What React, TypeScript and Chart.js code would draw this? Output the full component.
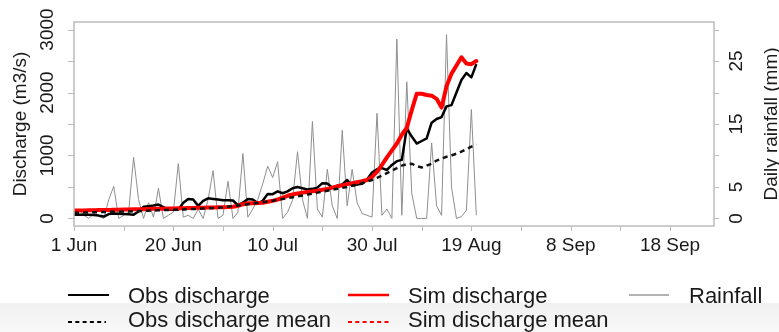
import React, { useEffect, useRef } from "react";
import { Chart, registerables } from "chart.js";

Chart.register(...registerables);

// Day index since 1 Jun
const days: number[] = [
  0, 1, 2, 3, 4, 5, 6, 7, 8, 9, 10, 11, 12, 13, 14, 15, 16, 17, 18, 19,
  20, 21, 22, 23, 24, 25, 26, 27, 28, 29, 30, 31, 32, 33, 34, 35, 36, 37, 38, 39,
  40, 41, 42, 43, 44, 45, 46, 47, 48, 49, 50, 51, 52, 53, 54, 55, 56, 57, 58, 59,
  60, 61, 62, 63, 64, 65, 66, 67, 68, 69, 70, 71, 72, 73, 74, 75, 76, 77, 78, 79,
  80, 81,
];

const obsDischarge: number[] = [
  60, 60, 60, 60, 55, 45, 30, 70, 80, 75, 70, 65, 60, 110, 185, 195, 205, 220, 180, 140,
  140, 140, 250, 310, 300, 200, 280, 320, 310, 300, 290, 290, 285, 210, 250, 310, 300, 240, 280, 390,
  385, 430, 400, 430, 480, 500, 480, 460, 470, 490, 560, 555, 490, 520, 540, 610, 520, 540, 550, 620,
  730, 780, 800, 770, 850, 910, 930, 1430, 1300, 1190, 1230, 1270, 1520, 1580, 1610, 1780, 1800, 2000, 2200, 2310,
  2240, 2450,
];

const simDischarge: number[] = [
  125, 126, 128, 129, 131, 133, 134, 136, 138, 140, 141, 143, 145, 147, 148, 150, 152, 153, 155, 157,
  158, 160, 162, 164, 166, 168, 170, 172, 174, 176, 178, 180, 185, 200, 225, 240, 242, 244, 250, 265,
  280, 300, 330, 360, 380, 395, 410, 420, 430, 440, 455, 470, 490, 510, 525, 545, 560, 575, 590, 610,
  660, 740, 850, 970, 1080, 1190, 1330, 1440, 1720, 1980, 1980, 1960, 1950, 1900, 1760, 2100, 2300, 2430, 2560, 2460,
  2450, 2500,
];

const obsDischargeMean: number[] = [
  90, 92, 94, 96, 98, 100, 102, 104, 106, 108, 110, 112, 114, 117, 120, 123, 126, 129, 132, 135,
  138, 141, 144, 147, 150, 153, 156, 160, 165, 170, 178, 186, 195, 205, 215, 225, 236, 247, 258, 270,
  282, 295, 308, 322, 336, 350, 365, 380, 395, 410, 425, 440, 455, 470, 485, 500, 520, 540, 560, 585,
  610, 645, 680, 720, 760, 800, 840, 860, 870, 830, 810, 840, 870, 920, 950, 980, 1000, 1030, 1060, 1100,
  1140, 1170,
];

// Not visible in the reference (hidden / absent)
const simDischargeMean: number[] = [];

const rainfall: number[] = [
  0.5, 1.5, 0.5, 0, 0.8, 0.3, 0, 3, 5.1, 0, 0.5, 1, 9.7, 3, 0, 2.5, 0.2, 4.8, 0, 0.5,
  1, 8.7, 0.2, 0.5, 0, 1.5, 0, 3, 7.6, 0, 0.5, 5.9, 0, 1, 10.3, 0.2, 1.5, 3, 5.5, 8.3,
  6.5, 9, 0, 1, 2.9, 10.6, 3, 0, 15.4, 1.5, 0.2, 7.8, 2, 0, 14, 2, 7.8, 2.5, 0.8, 0.5,
  0.2, 16.7, 0.5, 1.5, 0, 28.5, 0.5, 21.7, 4, 0, 0, 0, 12, 2, 0.5, 29.2, 5, 0, 0.3, 1.3,
  17.3, 0.5,
];

const xTickValues: number[] = [0, 10, 20, 30, 40, 50, 60, 70, 80, 90, 100, 110, 120];
const xTickLabels: string[] = ["1 Jun", "", "20 Jun", "", "10 Jul", "", "30 Jul", "", "19 Aug", "", "8 Sep", "", "18 Sep"];
const yTickValues: number[] = [0, 500, 1000, 1500, 2000, 2500, 3000];
const yTickLabels: string[] = ["0", "", "1000", "", "2000", "", "3000"];
const y2TickValues: number[] = [0, 5, 10, 15, 20, 25, 30];
const y2TickLabels: string[] = ["0", "5", "", "15", "", "25", ""];

const FONT = '"Liberation Sans", Arial, Helvetica, sans-serif';
const TEXT = "#1a1a1a";
const AXIS = "#bcbcbc";

function vText(ctx: CanvasRenderingContext2D, text: string, x: number, y: number) {
  ctx.save();
  ctx.translate(x, y);
  ctx.rotate(-Math.PI / 2);
  ctx.textAlign = "center";
  ctx.textBaseline = "alphabetic";
  ctx.fillText(text, 0, 0);
  ctx.restore();
}

const rStylePlugin = {
  id: "rstyle",
  beforeDraw(chart: any) {
    const ctx: CanvasRenderingContext2D = chart.ctx;
    ctx.save();
    ctx.fillStyle = "#ffffff";
    ctx.fillRect(0, 0, chart.width, chart.height);
    const g = ctx.createLinearGradient(0, 303, 0, 332);
    g.addColorStop(0, "#f1f1f1");
    g.addColorStop(1, "#f8f8f8");
    ctx.fillStyle = g;
    ctx.fillRect(0, 303, chart.width, chart.height - 303);
    ctx.restore();
  },
  afterDraw(chart: any) {
    const ctx: CanvasRenderingContext2D = chart.ctx;
    const a = chart.chartArea;
    const xs = chart.scales.x;
    const ys = chart.scales.y;
    const y2s = chart.scales.y2;
    ctx.save();

    // box
    ctx.strokeStyle = AXIS;
    ctx.lineWidth = 1.5;
    ctx.strokeRect(a.left, a.top, a.right - a.left, a.bottom - a.top);

    // ticks
    ctx.lineWidth = 1;
    ctx.beginPath();
    xTickValues.forEach((v) => {
      const px = Math.round(xs.getPixelForValue(v)) + 0.5;
      ctx.moveTo(px, a.bottom);
      ctx.lineTo(px, a.bottom + 5);
    });
    yTickValues.forEach((v) => {
      const py = Math.round(ys.getPixelForValue(v)) + 0.5;
      ctx.moveTo(a.left - 6, py);
      ctx.lineTo(a.left, py);
    });
    y2TickValues.forEach((v) => {
      const py = Math.round(y2s.getPixelForValue(v)) + 0.5;
      ctx.moveTo(a.right, py);
      ctx.lineTo(a.right + 5, py);
    });
    ctx.stroke();

    // tick labels
    ctx.fillStyle = TEXT;
    ctx.font = `19px ${FONT}`;
    ctx.textAlign = "center";
    ctx.textBaseline = "alphabetic";
    xTickValues.forEach((v, i) => {
      if (xTickLabels[i]) ctx.fillText(xTickLabels[i], xs.getPixelForValue(v), 251);
    });
    yTickValues.forEach((v, i) => {
      if (yTickLabels[i]) vText(ctx, yTickLabels[i], 53, ys.getPixelForValue(v));
    });
    y2TickValues.forEach((v, i) => {
      if (y2TickLabels[i]) vText(ctx, y2TickLabels[i], 742, y2s.getPixelForValue(v));
    });

    // axis titles
    const cy = (a.top + a.bottom) / 2;
    vText(ctx, "Discharge (m3/s)", 26, cy);
    vText(ctx, "Daily rainfall (mm)", 777, cy);

    // legend
    const items = [
      { label: "Obs discharge", x0: 68, x1: 109, tx: 128, y: 295, ty: 303, color: "#000000", w: 2.2, dash: [] as number[] },
      { label: "Sim discharge", x0: 348, x1: 389, tx: 408, y: 295, ty: 303, color: "#ff0000", w: 2.5, dash: [] as number[] },
      { label: "Rainfall", x0: 629, x1: 669, tx: 689, y: 295, ty: 303, color: "#666666", w: 1, dash: [] as number[] },
      { label: "Obs discharge mean", x0: 68, x1: 106, tx: 128, y: 322, ty: 327, color: "#000000", w: 2, dash: [4, 3.3] },
      { label: "Sim discharge mean", x0: 348, x1: 389, tx: 408, y: 322, ty: 327, color: "#ff0000", w: 2, dash: [4, 3.3] },
    ];
    ctx.font = `22px ${FONT}`;
    ctx.textAlign = "left";
    items.forEach((it) => {
      ctx.save();
      ctx.strokeStyle = it.color;
      ctx.lineWidth = it.w;
      ctx.setLineDash(it.dash);
      ctx.beginPath();
      ctx.moveTo(it.x0, it.y);
      ctx.lineTo(it.x1, it.y);
      ctx.stroke();
      ctx.restore();
      ctx.fillStyle = TEXT;
      ctx.fillText(it.label, it.tx, it.ty);
    });

    ctx.restore();
  },
};

export default function App() {
  const canvasRef = useRef<HTMLCanvasElement | null>(null);

  useEffect(() => {
    const canvas = canvasRef.current;
    if (!canvas) return;
    const pts = (arr: number[]) => arr.map((v, i) => ({ x: days[i], y: v }));
    const chart = new Chart(canvas, {
      type: "line",
      data: {
        datasets: [
          {
            label: "Sim discharge mean",
            data: pts(simDischargeMean),
            borderColor: "#ff0000",
            borderWidth: 2.5,
            borderDash: [5, 4],
            pointRadius: 0,
            yAxisID: "y",
          },
          {
            label: "Obs discharge mean",
            data: pts(obsDischargeMean),
            borderColor: "#111111",
            borderWidth: 2.5,
            borderDash: [5, 4],
            pointRadius: 0,
            yAxisID: "y",
          },
          {
            label: "Sim discharge",
            data: pts(simDischarge),
            borderColor: "#ff0000",
            borderWidth: 4,
            pointRadius: 0,
            borderJoinStyle: "round",
            borderCapStyle: "round",
            yAxisID: "y",
          },
          {
            label: "Obs discharge",
            data: pts(obsDischarge),
            borderColor: "#000000",
            borderWidth: 2.5,
            pointRadius: 0,
            borderJoinStyle: "round",
            yAxisID: "y",
          },
          {
            label: "Rainfall",
            data: pts(rainfall),
            borderColor: "#8f8f8f",
            borderWidth: 1,
            pointRadius: 0,
            yAxisID: "y2",
          },
        ],
      },
      options: {
        responsive: false,
        animation: false,
        devicePixelRatio: 1,
        layout: { padding: { left: 74, right: 65, top: 22, bottom: 106 } },
        plugins: { legend: { display: false }, tooltip: { enabled: false }, title: { display: false } },
        elements: { line: { tension: 0 } },
        scales: {
          x: { type: "linear", min: 0, max: 128.85, display: false },
          y: { type: "linear", min: -120, max: 3120, display: false },
          y2: { type: "linear", min: -1.2, max: 31.2, display: false, position: "right" },
        },
      },
      plugins: [rStylePlugin],
    } as any);
    return () => chart.destroy();
  }, []);

  return (
    <div style={{ position: "fixed", left: 0, top: 0, width: 779, height: 332, background: "#fff" }}>
      <canvas ref={canvasRef} width={779} height={332} style={{ display: "block", width: 779, height: 332 }} />
    </div>
  );
}
